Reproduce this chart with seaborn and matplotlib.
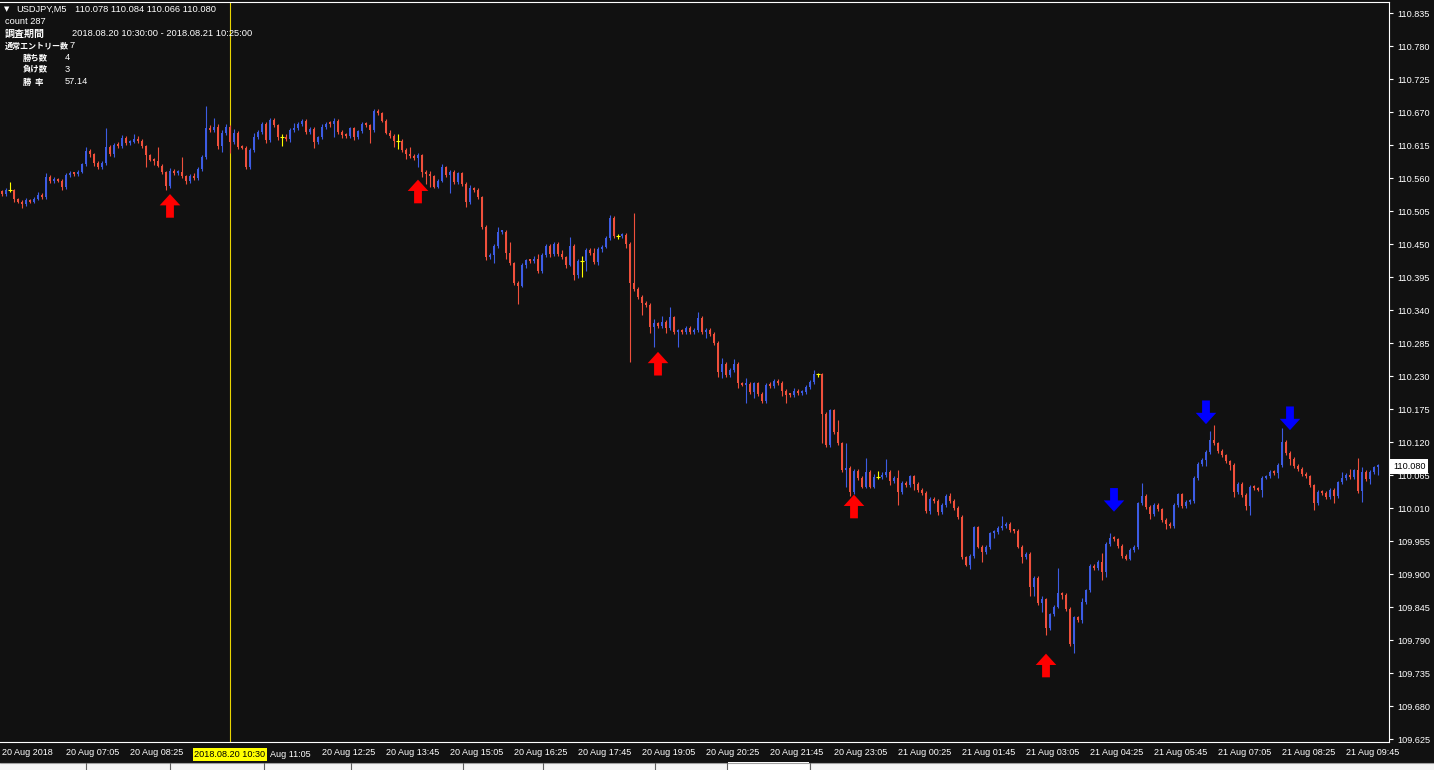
import pandas as pd
import matplotlib.pyplot as plt
from matplotlib.path import Path
from matplotlib.patches import Rectangle
from matplotlib.lines import Line2D
from matplotlib.transforms import offset_copy
import seaborn as sns

W, H = 1434, 770
bg = "#111111"
bull = "#3d5ce4"
bear = "#f0503c"
doji = "#ffff00"

# USDJPY M5, 20 Aug 05:45 .. 21 Aug 10:25 (bar 0 .. 344)
open_first = 110.538
closes = [
    110.534, 110.540, 110.540, 110.525, 110.521, 110.517, 110.523, 110.521, 110.525, 110.532, 110.528, 110.562, 110.555, 110.558, 110.556,
    110.545, 110.565, 110.568, 110.567, 110.570, 110.583, 110.605, 110.600, 110.585, 110.578, 110.585, 110.612, 110.600, 110.615, 110.613,
    110.627, 110.618, 110.620, 110.625, 110.622, 110.613, 110.598, 110.591, 110.588, 110.581, 110.570, 110.547, 110.572, 110.569, 110.570,
    110.563, 110.555, 110.563, 110.560, 110.575, 110.595, 110.644, 110.640, 110.646, 110.613, 110.635, 110.645, 110.620, 110.636, 110.612,
    110.611, 110.578, 110.607, 110.629, 110.637, 110.650, 110.624, 110.657, 110.648, 110.629, 110.629, 110.625, 110.640, 110.644, 110.650,
    110.656, 110.637, 110.642, 110.620, 110.628, 110.645, 110.651, 110.650, 110.656, 110.637, 110.632, 110.630, 110.643, 110.628, 110.638,
    110.650, 110.648, 110.640, 110.672, 110.668, 110.656, 110.636, 110.630, 110.622, 110.622, 110.607, 110.600, 110.597, 110.594, 110.598,
    110.571, 110.567, 110.563, 110.546, 110.556, 110.578, 110.565, 110.570, 110.553, 110.568, 110.550, 110.520, 110.543, 110.540, 110.528,
    110.479, 110.428, 110.432, 110.447, 110.470, 110.471, 110.435, 110.418, 110.385, 110.381, 110.416, 110.423, 110.422, 110.426, 110.405,
    110.432, 110.447, 110.434, 110.450, 110.433, 110.428, 110.416, 110.447, 110.398, 110.422, 110.422, 110.440, 110.435, 110.420, 110.442,
    110.446, 110.460, 110.494, 110.463, 110.463, 110.465, 110.450, 110.385, 110.375, 110.362, 110.352, 110.349, 110.312, 110.318, 110.313,
    110.320, 110.310, 110.328, 110.303, 110.305, 110.303, 110.310, 110.303, 110.307, 110.327, 110.303, 110.307, 110.300, 110.285, 110.237,
    110.250, 110.232, 110.240, 110.250, 110.218, 110.216, 110.217, 110.204, 110.218, 110.200, 110.188, 110.215, 110.214, 110.222, 110.219,
    110.205, 110.199, 110.198, 110.205, 110.202, 110.204, 110.212, 110.220, 110.233, 110.233, 110.167, 110.115, 110.173, 110.137, 110.118,
    110.074, 110.077, 110.037, 110.072, 110.060, 110.046, 110.070, 110.046, 110.062, 110.062, 110.065, 110.070, 110.055, 110.060, 110.037,
    110.052, 110.049, 110.063, 110.050, 110.040, 110.035, 110.005, 110.025, 110.022, 110.003, 110.015, 110.030, 110.022, 110.010, 109.995,
    109.928, 109.916, 109.930, 109.978, 109.946, 109.937, 109.945, 109.968, 109.970, 109.977, 109.980, 109.984, 109.973, 109.972, 109.946,
    109.928, 109.934, 109.879, 109.894, 109.852, 109.858, 109.810, 109.833, 109.846, 109.868, 109.866, 109.842, 109.783, 109.828, 109.823,
    109.853, 109.873, 109.914, 109.910, 109.920, 109.903, 109.950, 109.960, 109.958, 109.947, 109.930, 109.926, 109.940, 109.945, 110.018,
    110.030, 110.012, 110.000, 110.015, 110.008, 109.990, 109.984, 109.980, 110.015, 110.033, 110.013, 110.020, 110.022, 110.060, 110.084,
    110.090, 110.104, 110.123, 110.118, 110.105, 110.098, 110.088, 110.082, 110.037, 110.050, 110.032, 110.013, 110.045, 110.043, 110.041,
    110.061, 110.063, 110.070, 110.068, 110.082, 110.120, 110.102, 110.092, 110.080, 110.075, 110.067, 110.063, 110.048, 110.018, 110.037,
    110.035, 110.028, 110.040, 110.030, 110.053, 110.060, 110.065, 110.062, 110.073, 110.038, 110.070, 110.058, 110.070, 110.078, 110.080,
]
# wick lengths above / below the body, in 0.001 yen
up_pips = [
    3, 4, 14, 2, 2, 3, 4, 2, 3, 5, 3, 6, 3, 4, 3,
    2, 3, 4, 2, 3, 3, 7, 3, 2, 3, 3, 32, 4, 3, 5,
    5, 4, 3, 8, 5, 3, 2, 3, 3, 24, 3, 2, 5, 4, 3,
    25, 3, 4, 6, 4, 4, 36, 4, 14, 4, 5, 6, 3, 6, 3,
    3, 3, 3, 6, 3, 4, 3, 4, 3, 3, 4, 5, 3, 8, 3,
    3, 3, 3, 4, 3, 5, 3, 4, 4, 3, 3, 3, 3, 3, 3,
    3, 3, 3, 3, 4, 3, 3, 5, 3, 11, 3, 3, 12, 3, 4,
    3, 3, 5, 3, 3, 5, 3, 4, 3, 3, 3, 3, 5, 3, 3,
    3, 3, 3, 3, 8, 3, 3, 19, 3, 3, 3, 3, 3, 4, 7,
    4, 3, 3, 3, 3, 8, 3, 15, 3, 4, 9, 3, 3, 8, 3,
    3, 3, 5, 3, 4, 3, 4, 3, 117, 4, 3, 3, 3, 8, 3,
    10, 3, 18, 3, 3, 3, 4, 3, 3, 10, 3, 3, 3, 3, 3,
    10, 3, 3, 8, 3, 3, 10, 3, 3, 3, 3, 3, 6, 3, 3,
    3, 3, 3, 6, 3, 3, 3, 3, 7, 3, 3, 3, 3, 3, 20,
    3, 41, 3, 3, 3, 3, 23, 3, 5, 10, 5, 22, 3, 3, 13,
    3, 3, 3, 3, 3, 3, 3, 3, 3, 3, 3, 4, 6, 3, 3,
    3, 3, 3, 3, 3, 3, 3, 3, 3, 3, 17, 3, 3, 3, 3,
    3, 3, 3, 3, 3, 5, 3, 3, 3, 42, 3, 3, 3, 3, 3,
    8, 3, 3, 3, 3, 15, 3, 8, 3, 3, 3, 3, 3, 3, 3,
    22, 3, 3, 3, 3, 3, 3, 3, 3, 3, 3, 3, 3, 3, 3,
    3, 3, 15, 25, 3, 3, 3, 3, 3, 3, 3, 3, 3, 3, 3,
    3, 3, 4, 3, 3, 24, 3, 3, 3, 3, 3, 3, 3, 3, 3,
    3, 3, 3, 3, 3, 10, 3, 10, 3, 20, 8, 3, 3, 3, 4,
]
dn_pips = [
    3, 3, 3, 4, 3, 7, 3, 2, 3, 2, 3, 2, 3, 3, 3,
    4, 3, 3, 3, 3, 2, 3, 4, 5, 3, 2, 3, 3, 4, 3,
    2, 3, 2, 2, 3, 3, 19, 3, 6, 3, 3, 7, 3, 3, 3,
    3, 4, 3, 3, 3, 3, 3, 3, 3, 4, 10, 3, 18, 3, 3,
    3, 3, 3, 3, 3, 3, 5, 3, 3, 6, 15, 3, 5, 3, 3,
    3, 3, 3, 10, 3, 3, 3, 4, 22, 3, 5, 3, 3, 5, 3,
    3, 3, 22, 3, 3, 3, 3, 3, 10, 14, 3, 8, 3, 3, 15,
    9, 17, 17, 3, 3, 3, 3, 30, 3, 3, 3, 8, 3, 3, 3,
    3, 4, 3, 14, 3, 3, 10, 3, 3, 31, 3, 5, 3, 3, 3,
    3, 3, 5, 3, 3, 3, 5, 3, 8, 5, 26, 16, 3, 3, 5,
    5, 3, 3, 3, 4, 3, 6, 131, 3, 3, 20, 3, 10, 33, 3,
    3, 8, 3, 3, 24, 3, 3, 3, 3, 3, 3, 10, 3, 3, 8,
    10, 3, 3, 3, 8, 3, 30, 3, 10, 3, 3, 3, 3, 3, 3,
    8, 14, 3, 3, 3, 3, 3, 3, 3, 4, 49, 3, 3, 3, 3,
    3, 29, 7, 3, 3, 3, 3, 3, 3, 3, 3, 3, 6, 3, 22,
    3, 4, 3, 10, 3, 3, 3, 5, 3, 4, 3, 3, 3, 3, 3,
    3, 3, 8, 3, 3, 16, 3, 3, 8, 3, 3, 3, 3, 3, 3,
    10, 3, 15, 15, 3, 15, 11, 3, 3, 3, 8, 3, 3, 14, 3,
    5, 3, 3, 3, 3, 13, 8, 3, 3, 3, 3, 3, 3, 3, 3,
    3, 3, 8, 3, 3, 3, 8, 3, 3, 3, 3, 3, 3, 3, 3,
    3, 10, 3, 3, 3, 3, 3, 8, 8, 3, 3, 6, 14, 3, 3,
    12, 3, 3, 3, 8, 3, 3, 10, 3, 3, 3, 3, 3, 11, 3,
    3, 3, 3, 12, 3, 3, 3, 3, 3, 3, 18, 3, 8, 3, 12,
]

up_arrow_bars = [42, 104, 164, 213, 261]
up_arrow_prices = [110.514, 110.538, 110.251, 110.013, 109.748]
down_arrow_bars = [278, 301, 322]
down_arrow_prices = [110.024, 110.170, 110.160]

price_ticks = [110.835, 110.780, 110.725, 110.670, 110.615, 110.560, 110.505, 110.450,
               110.395, 110.340, 110.285, 110.230, 110.175, 110.120, 110.065, 110.010,
               109.955, 109.900, 109.845, 109.790, 109.735, 109.680, 109.625]
# the 10:30 vertical line label hides 09:45 and the start of the 11:05 label
time_labels = ["20 Aug 2018", "20 Aug 07:05", "20 Aug 08:25", "", "",
               "20 Aug 12:25", "20 Aug 13:45", "20 Aug 15:05", "20 Aug 16:25", "20 Aug 17:45",
               "20 Aug 19:05", "20 Aug 20:25", "20 Aug 21:45", "20 Aug 23:05", "21 Aug 00:25",
               "21 Aug 01:45", "21 Aug 03:05", "21 Aug 04:25", "21 Aug 05:45", "21 Aug 07:05",
               "21 Aug 08:25", "21 Aug 09:45"]
partial_label = "Aug 11:05"
partial_bar = 64
vline_bar = 57
vline_label = "2018.08.20 10:30"
last_price = 110.080

df = pd.DataFrame({"close": closes, "up": up_pips, "dn": dn_pips})
df["bar"] = range(len(df))
df["open"] = [open_first] + closes[:-1]
df["top"] = df[["open", "close"]].max(axis=1)
df["bot"] = df[["open", "close"]].min(axis=1)
df["high"] = df["top"] + df["up"] / 1000
df["low"] = df["bot"] - df["dn"] / 1000
df["color"] = [doji if c == o else (bull if c > o else bear) for o, c in zip(df["open"], df["close"])]

sns.set_theme(style="dark", rc={"axes.facecolor": bg, "figure.facecolor": bg,
                                "axes.edgecolor": "white", "axes.grid": False})
plt.rcParams["font.family"] = ["Liberation Sans", "DejaVu Sans", "Noto Sans CJK JP"]

fig = plt.figure(figsize=(W / 100, H / 100), dpi=100)
ax = fig.add_axes([0, 1 - 742 / H, 1389 / W, 740 / H])
ax.set_facecolor(bg)

ax.axvline(vline_bar, color="#e8d400", lw=0.8, zorder=1)

ax.vlines(df["bar"], df["low"], df["high"], colors=df["color"], lw=0.8, zorder=2)
body = df[df["color"] != doji]
ax.bar(body["bar"], (body["top"] - body["bot"]).clip(lower=0.0035), bottom=body["bot"],
       width=0.74, color=body["color"], linewidth=0, zorder=3)
dj = df[df["color"] == doji]
ax.hlines(dj["close"], dj["bar"] - 0.45, dj["bar"] + 0.45, colors=doji, lw=0.8, zorder=3)

# arrow signals
up_path = Path([(-10, 0.5), (0, 11.5), (10, 0.5), (3.8, 0.5), (3.8, -11.5),
                (-3.8, -11.5), (-3.8, 0.5), (-10, 0.5)], closed=True)
down_path = Path([(x, -y) for x, y in up_path.vertices], closed=True)
ups = pd.DataFrame({"bar": up_arrow_bars, "price": up_arrow_prices})
downs = pd.DataFrame({"bar": down_arrow_bars, "price": down_arrow_prices})
sns.scatterplot(data=ups, x="bar", y="price", marker=up_path, s=290, color="#ff0000",
                linewidth=0, edgecolor="none", ax=ax, zorder=5)
sns.scatterplot(data=downs, x="bar", y="price", marker=down_path, s=290, color="#0000ff",
                linewidth=0, edgecolor="none", ax=ax, zorder=5)

ax.set_xlim(-0.5, 346.75)
ax.set_ylim(109.6205, 110.8538)
ax.set_xlabel("")
ax.set_ylabel("")

for side in ["top", "right", "bottom"]:
    ax.spines[side].set_color("white")
    ax.spines[side].set_linewidth(0.8)
ax.spines["left"].set_visible(False)

ax.yaxis.tick_right()
ax.set_yticks(price_ticks, labels=[f"{v:.3f}" for v in price_ticks])
ax.set_xticks([16 * k for k in range(len(time_labels))], labels=time_labels)
for lbl in ax.get_xticklabels():
    lbl.set_horizontalalignment("left")
ax.tick_params(axis="y", colors="white", labelcolor="white", labelsize=6.6,
               length=3, width=0.8, direction="out", pad=3, left=False, right=True)
ax.tick_params(axis="x", colors="white", labelcolor="white", labelsize=6.5,
               length=3, width=0.8, direction="out", pad=1.5)

# the part of the 11:05 label left visible beside the yellow box
ax.text(partial_bar, -0.0165, partial_label, va="center", ha="left", fontsize=6.5,
        color="white", clip_on=False,
        transform=offset_copy(ax.get_xaxis_transform(), fig=fig, x=12, y=0, units="dots"))
# highlighted vline time label
ax.text(vline_bar, -0.0165, vline_label, transform=ax.get_xaxis_transform(),
        ha="center", va="center", fontsize=6.6, color="black", zorder=10, clip_on=False,
        bbox=dict(boxstyle="square,pad=0.2", fc="#ffff00", ec="none"))
# current price label
ax.text(1.003, last_price, f"{last_price:.3f}", transform=ax.get_yaxis_transform(),
        ha="left", va="center", fontsize=6.6, color="black", zorder=10, clip_on=False,
        bbox=dict(boxstyle="square,pad=0.3", fc="white", ec="none"))


def ftext(x, y, s, **kw):
    fig.text(x / W, 1 - y / H, s, color="white", va="center", ha="left", **kw)


jp = ["Noto Sans CJK JP", "DejaVu Sans"]
ftext(4, 9, "▼", fontsize=5, family=["DejaVu Sans"])
ftext(16, 9, "USDJPY,M5", fontsize=6.7)
ftext(75, 9, "110.078 110.084 110.066 110.080", fontsize=6.7)
ftext(5, 22, "count 287", fontsize=6.7)
ftext(5, 34, "調査期間", fontsize=7.2, family=jp, weight="bold")
ftext(72, 34, "2018.08.20 10:30:00 - 2018.08.21 10:25:00", fontsize=6.7)
ftext(5, 46, "通常エントリー数", fontsize=5.8, family=jp, weight="bold")
ftext(70, 46, "7", fontsize=6.7)
ftext(23, 58, "勝ち数", fontsize=6.0, family=jp, weight="bold")
ftext(65, 58, "4", fontsize=6.7)
ftext(23, 70, "負け数", fontsize=6.0, family=jp, weight="bold")
ftext(65, 70, "3", fontsize=6.7)
ftext(23, 82, "勝  率", fontsize=6.0, family=jp, weight="bold")
ftext(65, 82, "57.14", fontsize=6.7)

# tab strip at the bottom
fig.add_artist(Rectangle((0, 0), 1, 7 / H, transform=fig.transFigure,
                         facecolor="#f4f4f4", edgecolor="none"))
fig.add_artist(Line2D([0, 1], [7 / H, 7 / H], transform=fig.transFigure,
                      color="#a0a0a0", lw=0.8))
for tx in [86, 170, 264, 351, 463, 543, 655, 727, 810]:
    fig.add_artist(Line2D([tx / W, tx / W], [0, 7 / H], transform=fig.transFigure,
                          color="#606060", lw=0.8))
fig.add_artist(Rectangle((728 / W, 0), 81 / W, 8 / H, transform=fig.transFigure,
                         facecolor="white", edgecolor="none"))

fig.savefig("out.png", dpi=100, facecolor=bg)
